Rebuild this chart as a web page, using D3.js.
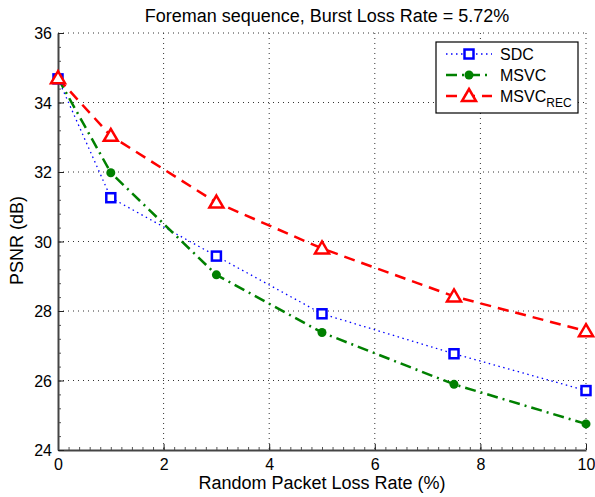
<!DOCTYPE html>
<html>
<head>
    <meta charset="utf-8">
    <title>Foreman PSNR</title>
    <script src="https://cdnjs.cloudflare.com/ajax/libs/d3/7.8.5/d3.min.js"></script>
    <style>
        body {
            margin: 0;
            background: white;
            font-family: "Liberation Sans", Arial, sans-serif;
        }
        svg text { fill: #000; }
    </style>
</head>
<body>
    <div id="chart"></div>

    <script>
        // Data
        const lossRates = [0, 1, 3, 5, 7.5, 10];
        const sdc = [34.68, 31.26, 29.58, 27.92, 26.77, 25.71];
        const msvc = [34.70, 31.98, 29.04, 27.38, 25.89, 24.75];
        const msvcRec = [34.70, 33.04, 31.12, 29.80, 28.42, 27.42];
        const xTicks = [0, 2, 4, 6, 8, 10];
        const yTicks = [24, 26, 28, 30, 32, 34, 36];

        const series = [
            {name: "SDC", sub: "", values: sdc, color: "#0000ff", dash: "1.5,3.5", width: 1.3, marker: "square"},
            {name: "MSVC", sub: "", values: msvc, color: "#008000", dash: "11,5,2,5", width: 2.5, marker: "circle"},
            {name: "MSVC", sub: "REC", values: msvcRec, color: "#ff0000", dash: "11,7", width: 2.5, marker: "triangle"}
        ];

        const W = 595, H = 497;
        const margin = {left: 58, right: 9, top: 33, bottom: 47};
        const width = W - margin.left - margin.right;
        const height = H - margin.top - margin.bottom;

        const svg = d3.select("#chart").append("svg")
            .attr("width", W)
            .attr("height", H);

        const g = svg.append("g")
            .attr("transform", `translate(${margin.left},${margin.top})`);

        const x = d3.scaleLinear().domain([0, 10]).range([0, width]);
        const y = d3.scaleLinear().domain([24, 36]).range([height, 0]);

        // Grid lines (dotted)
        g.append("g").selectAll("line")
            .data(xTicks.slice(1))
            .enter().append("line")
            .attr("x1", d => x(d)).attr("x2", d => x(d))
            .attr("y1", 0).attr("y2", height)
            .attr("stroke", "#333").attr("stroke-width", 1)
            .attr("stroke-dasharray", "1,4");

        g.append("g").selectAll("line")
            .data(yTicks.slice(1))
            .enter().append("line")
            .attr("x1", 0).attr("x2", width)
            .attr("y1", d => y(d)).attr("y2", d => y(d))
            .attr("stroke", "#333").attr("stroke-width", 1)
            .attr("stroke-dasharray", "1,4");

        // Minor ticks
        const xMinor = d3.range(0, 10.001, 0.2);
        const yMinor = d3.range(24, 36.001, 0.4);
        g.append("g").call(d3.axisBottom(x).tickValues(xMinor).tickSize(-3).tickFormat(""))
            .attr("transform", `translate(0,${height})`)
            .call(a => a.select(".domain").remove())
            .selectAll("line").attr("stroke", "#555");
        g.append("g").call(d3.axisLeft(y).tickValues(yMinor).tickSize(-3).tickFormat(""))
            .call(a => a.select(".domain").remove())
            .selectAll("line").attr("stroke", "#555");

        // Major axes
        const xAxis = g.append("g")
            .attr("transform", `translate(0,${height})`)
            .call(d3.axisBottom(x).tickValues(xTicks).tickSize(-6).tickPadding(9).tickSizeOuter(0));
        const yAxis = g.append("g")
            .call(d3.axisLeft(y).tickValues(yTicks).tickSize(-6).tickPadding(6).tickSizeOuter(0));

        [xAxis, yAxis].forEach(a => {
            a.select(".domain").attr("stroke", "#444").attr("stroke-width", 2);
            a.selectAll(".tick line").attr("stroke", "#222");
            a.selectAll("text")
                .style("font-family", "'Liberation Sans', Arial, sans-serif")
                .style("font-size", "16px");
        });
        yAxis.selectAll("text").attr("dy", "0.35em");

        // Lines
        const line = d3.line()
            .x((d, i) => x(lossRates[i]))
            .y(d => y(d));

        series.forEach(s => {
            g.append("path")
                .datum(s.values)
                .attr("fill", "none")
                .attr("stroke", s.color)
                .attr("stroke-width", s.width)
                .attr("stroke-dasharray", s.dash)
                .attr("d", line);
        });

        function drawMarker(sel, type, color, cx, cy) {
            if (type === "square") {
                sel.append("rect")
                    .attr("x", cx - 4.5).attr("y", cy - 4.5)
                    .attr("width", 9).attr("height", 9)
                    .attr("fill", "white").attr("stroke", color).attr("stroke-width", 2.5);
            } else if (type === "circle") {
                sel.append("circle")
                    .attr("cx", cx).attr("cy", cy).attr("r", 4.5)
                    .attr("fill", color);
            } else {
                sel.append("path")
                    .attr("d", `M${cx},${cy - 7}L${cx + 7},${cy + 5}L${cx - 7},${cy + 5}Z`)
                    .attr("fill", "white").attr("stroke", color).attr("stroke-width", 2.5);
            }
        }

        // Markers
        series.forEach(s => {
            const mg = g.append("g");
            s.values.forEach((v, i) => drawMarker(mg, s.marker, s.color, x(lossRates[i]), y(v)));
        });

        // Title and labels
        svg.append("text")
            .attr("x", 327)
            .attr("y", 22)
            .attr("text-anchor", "middle")
            .style("font-size", "18px")
            .text("Foreman sequence, Burst Loss Rate = 5.72%");

        svg.append("text")
            .attr("x", 322)
            .attr("y", 489)
            .attr("text-anchor", "middle")
            .style("font-size", "18px")
            .text("Random Packet Loss Rate (%)");

        svg.append("text")
            .attr("transform", `translate(23,${margin.top + height / 2 - 1}) rotate(-90)`)
            .attr("text-anchor", "middle")
            .style("font-size", "18px")
            .text("PSNR (dB)");

        // Legend
        const legend = svg.append("g").attr("transform", "translate(436,42)");
        legend.append("rect")
            .attr("width", 142).attr("height", 71)
            .attr("fill", "white").attr("stroke", "#000").attr("stroke-width", 1.2);

        series.forEach((s, i) => {
            const ly = 12 + i * 21;
            legend.append("line")
                .attr("x1", 10).attr("x2", 56)
                .attr("y1", ly).attr("y2", ly)
                .attr("stroke", s.color)
                .attr("stroke-width", s.width)
                .attr("stroke-dasharray", s.dash);
            drawMarker(legend, s.marker, s.color, 33, ly);
            const t = legend.append("text")
                .attr("x", 64).attr("y", ly + 6)
                .style("font-size", "16px")
                .text(s.name);
            if (s.sub) {
                t.append("tspan")
                    .attr("dy", 5)
                    .style("font-size", "12px")
                    .text(s.sub);
            }
        });
    </script>
</body>
</html>
